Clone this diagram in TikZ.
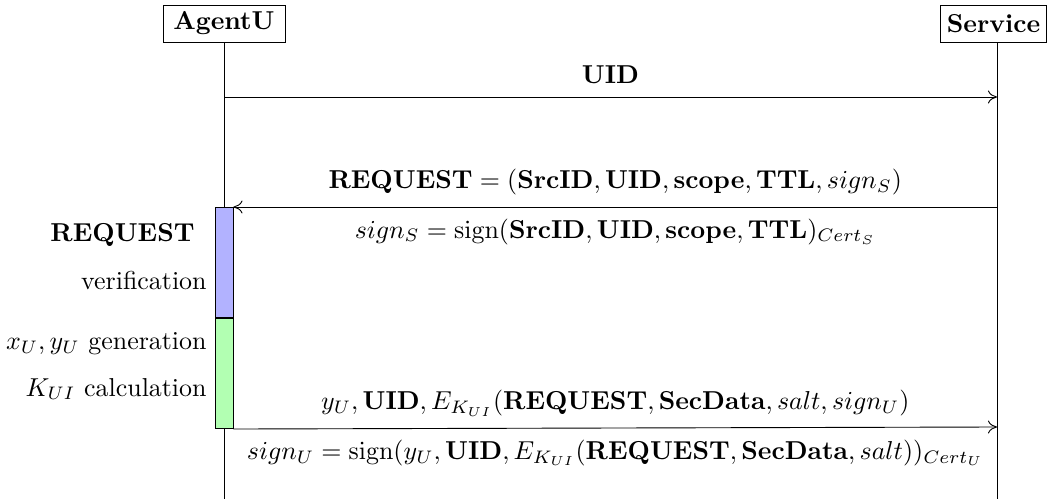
\documentclass[tikz,border=0pt]{standalone}
\usetikzlibrary{arrows.meta}
\begin{document}
\begin{tikzpicture}[x=0.386pt,y=-0.386pt,line width=0.35pt,>={To[length=3.5pt,width=5pt]}]
\useasboundingbox (0,0) rectangle (1047,501);
\tikzset{
  inst/.style={draw,fill=white,font=\bfseries,minimum height=14.3pt,inner sep=2pt},
  actbox/.style={draw,minimum width=6.95pt,minimum height=42.5pt,inner sep=0pt,anchor=north},
  lbl/.style={anchor=east,inner sep=0pt}
}
% instances
\node[inst,minimum width=47.1pt] (A) at (224,23.5) {AgentU};
\node[inst,minimum width=40.7pt] (S) at (993.5,23.5) {Service};
\coordinate (Aend) at (224,499);
\coordinate (Send) at (997,499);
\draw (A.south) -- (Aend);
\draw (S.south -| Send) -- (Send);
% activations
\node[actbox,fill=blue!30] (act1) at (224,207) {};
\node[actbox,fill=green!30] (act2) at (act1.south) {};
% message 1
\coordinate (m1a) at (224,97);
\coordinate (m1b) at (997,97);
\draw[->] (m1a) -- node[above=1.5pt] {\textbf{UID}} (m1b);
% message 2
\coordinate (m2s) at (997,207);
\draw[->] (m2s) -- node[above=1pt] {$\textbf{REQUEST} = (\textbf{SrcID}, \textbf{UID}, \textbf{scope}, \textbf{TTL}, sign_S)$}
  node[below=1pt] {$sign_S = \mathrm{sign}(\textbf{SrcID}, \textbf{UID}, \textbf{scope}, \textbf{TTL})_{Cert_S}$} (act1.north east);
% message 3
\coordinate (m3e) at (997,427);
\draw[->] (act2.south east) -- node[above=1pt] {$y_U, \textbf{UID}, E_{K_{UI}}(\textbf{REQUEST}, \textbf{SecData}, salt, sign_U)$}
  node[below=1pt] {$sign_U = \mathrm{sign}(y_U, \textbf{UID}, E_{K_{UI}}(\textbf{REQUEST}, \textbf{SecData}, salt))_{Cert_U}$} (m3e);
% side labels
\node[lbl,font=\bfseries] (l1) at (195,235) {REQUEST};
\node[lbl] (l2) at (207,281) {verification};
\node[lbl] (l3) at (207,344) {$x_U, y_U$ generation};
\node[lbl] (l4) at (207,389) {$K_{UI}$ calculation};
\end{tikzpicture}
\end{document}
